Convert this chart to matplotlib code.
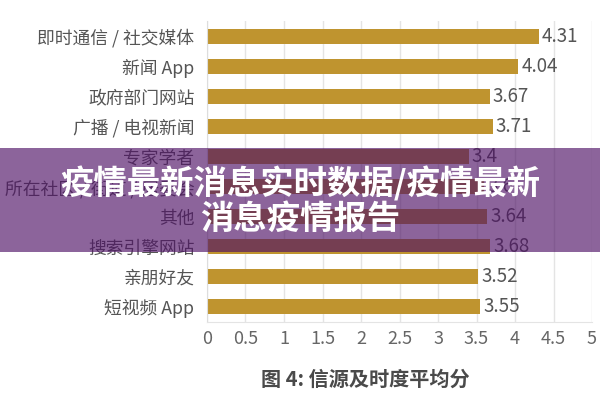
import numpy as np
import matplotlib.pyplot as plt
from matplotlib.patches import Rectangle

plt.rcParams['font.family'] = ['Noto Sans CJK SC', 'DejaVu Sans']

# data (top to bottom)
labels = ["即时通信 / 社交媒体", "新闻 App", "政府部门网站", "广播 / 电视新闻", "专家学者",
          "所在社区 / 街道 / 居委会", "其他", "搜索引擎网站", "亲朋好友", "短视频 App"]
scores = [4.31, 4.04, 3.67, 3.71, 3.4, 3.6, 3.64, 3.68, 3.52, 3.55]
value_text = ["4.31", "4.04", "3.67", "3.71", "3.4", "3.6", "3.64", "3.68", "3.52", "3.55"]
xticks = [0, 0.5, 1, 1.5, 2, 2.5, 3, 3.5, 4, 4.5, 5]

caption = "图 4: 信源及时度平均分"
banner = "疫情最新消息实时数据/疫情最新\n消息疫情报告"

fig = plt.figure(figsize=(6, 4), dpi=100)
ax = fig.add_axes([207/600, 1-322/400, (592-207)/600, (322-21)/400])

y = np.arange(len(labels))
ax.barh(y, scores, height=0.5, color="#BF942F", zorder=2)
for yi, v, t in zip(y, scores, value_text):
    ax.text(v + 0.04, yi, t, va="center", ha="left", fontsize=13.5, color="#555555")

ax.set_yticks(y)
ax.set_yticklabels(labels, fontsize=12.8, color="#555555")
ax.set_ylim(len(labels) - 0.5, -0.5)
ax.set_xlim(0, 5)
ax.set_xticks(xticks)
ax.set_xticklabels([("%g" % t) for t in xticks], fontsize=13, color="#666666")
ax.tick_params(length=0, pad=9)
ax.tick_params(axis="x", pad=6)
ax.grid(axis="x", color="#e4e4e4", lw=1, zorder=0)
for s in ["top", "right"]:
    ax.spines[s].set_visible(False)
ax.spines["left"].set_color("#dddddd")
ax.spines["bottom"].set_color("#e4e4e4")

fig.text(365/600, 1-379/400, caption, ha="center", va="center", fontsize=14.5,
         fontweight="bold", color="#4a4a4a")

# purple banner overlay
fig.add_artist(Rectangle((0, 1-252/400), 1, 104/400, transform=fig.transFigure,
                         facecolor="#4E1165", alpha=0.65, edgecolor="none", zorder=5))
fig.text(0.5, 1-201/400, banner, ha="center", va="center", fontsize=24,
         fontweight="heavy", color="white", linespacing=1.05, zorder=6)

plt.savefig("out.png", dpi=100)
